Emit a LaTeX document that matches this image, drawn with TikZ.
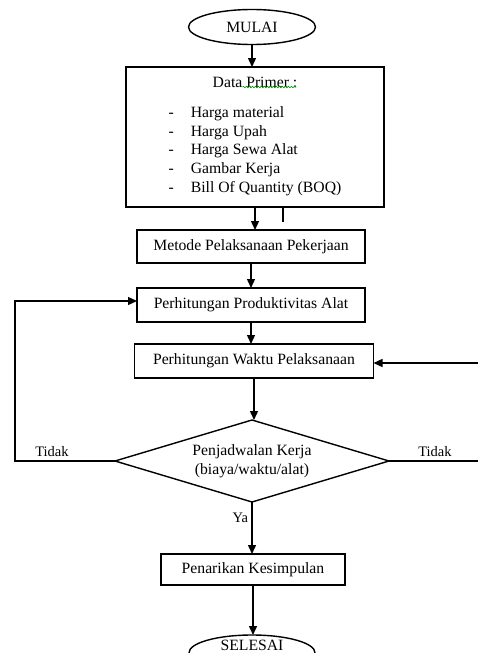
\documentclass[tikz,border=0pt]{standalone}
\usepackage{fontspec}
\setmainfont{Liberation Serif}
\usetikzlibrary{arrows.meta,positioning,shapes.geometric,decorations.pathmorphing}

\begin{document}
\begin{tikzpicture}[x=1pt, y=-1pt, >={Triangle[length=9pt,width=8pt]},
  font=\fontsize{15.7}{18.7}\selectfont,
  box/.style={draw, line width=1.4pt, minimum height=33pt, inner sep=0pt, outer sep=0pt},
  term/.style={draw, ellipse, line width=1.4pt, minimum width=127pt, minimum height=35pt, inner sep=0pt, outer sep=0pt},
  keputusan/.style={draw, diamond, aspect=3.34, minimum width=274pt, minimum height=82pt, inner sep=0pt, outer sep=0pt, align=center, line width=1.4pt},
  arr/.style={->, line width=1.4pt},
  lbl/.style={font=\fontsize{14.5}{16}\selectfont}]
  \useasboundingbox (0,0) rectangle (478,653);
  \node[term] (mulai) at (252,27) {MULAI};
  \node[box, minimum width=258pt, minimum height=140pt, below=22.5pt of mulai, xshift=3pt] (data) {};
  \node[below=8pt of data.north, inner sep=2pt] (primer) {Data Primer :};
  \node[below=14pt of primer, inner sep=0pt] (daftar) {%
    \begin{tabular}{@{}l@{\hspace{17pt}}l@{}}
      - & Harga material\\
      - & Harga Upah\\
      - & Harga Sewa Alat\\
      - & Gambar Kerja\\
      - & Bill Of Quantity (BOQ)
    \end{tabular}};
  \node[box, minimum width=228pt, below=23pt of data, xshift=-4pt] (metode) {Metode Pelaksanaan Pekerjaan};
  \node[box, minimum width=228pt, minimum height=34pt, below=25pt of metode] (produk) {Perhitungan Produktivitas Alat};
  \node[box, minimum width=239pt, minimum height=34pt, below=22pt of produk, xshift=3pt] (waktu) {Perhitungan Waktu Pelaksanaan};
  \node[keputusan, below=42pt of waktu, xshift=-2pt] (jadwal) {Penjadwalan Kerja\\(biaya/waktu/alat)};
  \node[box, minimum width=184pt, minimum height=31pt, below=52pt of jadwal, xshift=1pt] (simpul) {Penarikan Kesimpulan};
  \node[term, minimum width=126pt, text height=10.5pt, text depth=14.5pt, below=50pt of simpul, xshift=-1pt] (selesai) {SELESAI};
  \coordinate (batang) at (283,222);
  \coordinate (kiri) at (15,461);
  \coordinate (kanan) at (481,461);

  \draw[arr] (mulai) -- (mulai |- data.north);
  \draw[arr] (data) -- (data |- metode.north);
  \draw[line width=2.6pt] (data.south -| batang) -- (batang);
  \draw[arr] (metode) -- (metode |- produk.north);
  \draw[arr] (produk) -- (produk |- waktu.north);
  \draw[arr] (waktu) -- (waktu |- jadwal.north);
  \draw[arr] (jadwal) -- node[lbl, left, pos=0.3] (ya) {Ya} (jadwal |- simpul.north);
  \draw[arr] (simpul) -- (simpul |- selesai.north);
  \draw[arr] (jadwal.west) -- node[lbl, above, pos=0.63] (tidakkiri) {Tidak} (kiri) |- ([yshift=4pt]produk.west);
  \draw[arr] (jadwal.east) -- node[lbl, above, pos=0.5] (tidakkanan) {Tidak} (kanan) |- ([yshift=-2pt]waktu.east);
  % garis hijau di bawah kata Primer
  \draw[green!60!black, line width=0.6pt, decorate, decoration={snake, amplitude=0.8pt, segment length=3pt}]
    ([xshift=-57pt, yshift=3pt]primer.south east) -- ([xshift=-3pt, yshift=3pt]primer.south east);
\end{tikzpicture}
\end{document}
